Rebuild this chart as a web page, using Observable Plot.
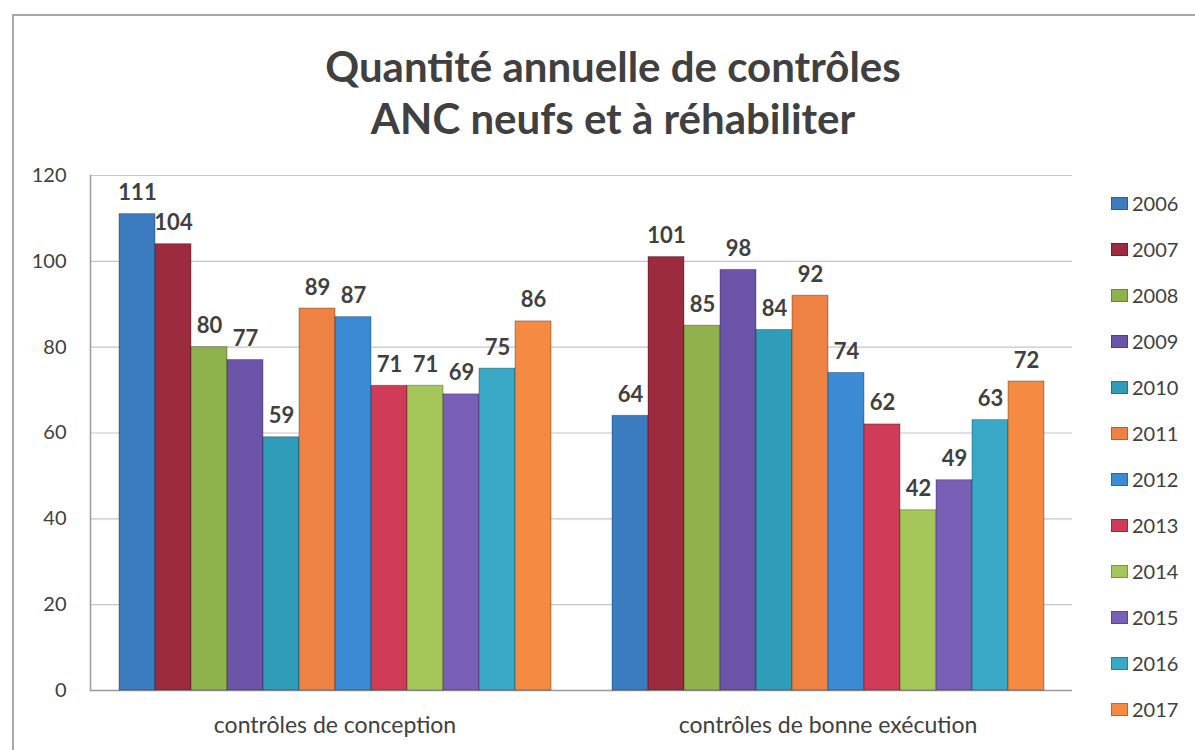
<!DOCTYPE html>
<html><head><meta charset="utf-8">
<script src="https://cdn.jsdelivr.net/npm/d3@7"></script>
<script src="https://cdn.jsdelivr.net/npm/@observablehq/plot@0.6"></script>
<style>
body{margin:0;background:#fff;font-family:Lato,"Open Sans",sans-serif;}
#wrap{position:relative;width:1195px;height:750px;overflow:hidden;background:#fff;}
#border{position:absolute;left:12px;top:14px;width:1300px;height:800px;border-left:2px solid #a8a8a8;border-top:2px solid #a8a8a8;}
#title{position:absolute;left:0;width:1226px;top:40px;text-align:center;font-weight:700;font-size:42px;line-height:52px;color:#404040;}
#grid,#chart{position:absolute;left:0;top:150px;}
#legend{position:absolute;left:1111px;top:180px;}
.item{height:46px;display:flex;align-items:center;font-size:20px;color:#404040;}
.sw{width:17px;height:13px;margin-right:4px;box-shadow:inset 0 0 0 1px rgba(0,0,0,0.25);}
</style>
</head><body>
<div id="wrap">
  <div id="border"></div>
  <div id="title">Quantité annuelle de contrôles<br>ANC neufs et à réhabiliter</div>
  <div id="grid"></div>
  <div id="chart"></div>
  <div id="legend"></div>
</div>
<script>
const groups = ["contrôles de conception", "contrôles de bonne exécution"];
const years = ["2006","2007","2008","2009","2010","2011","2012","2013","2014","2015","2016","2017"];
const conception = [111,104,80,77,59,89,87,71,71,69,75,86];
const bonneExecution = [64,101,85,98,84,92,74,62,42,49,63,72];
const colors = ["#3b7cc0","#9c2b3f","#8fb24c","#6b54a8","#2f9cb9","#ee8242","#3a8bd4","#d03b57","#a5c75a","#7a5fb8","#3aa9c7","#f58a42"];
const yTicks = [0,20,40,60,80,100,120];

const data = [];
years.forEach((yr,i)=>{
  data.push({group: groups[0], year: yr, value: conception[i]});
  data.push({group: groups[1], year: yr, value: bonneExecution[i]});
});

const common = {
  width: 1195,
  height: 600,
  marginTop: 25,
  marginBottom: 60,
  marginLeft: 90,
  marginRight: 123,
  style: {fontFamily: "Lato, 'Open Sans', sans-serif", background: "transparent"}
};

// Background: gridlines, baseline, left axis line, y tick labels
const grid = Plot.plot({
  ...common,
  y: {domain: [0,120], axis: null},
  marks: [
    Plot.ruleY(yTicks.filter(d=>d>0), {stroke: "#c9c0d3", strokeWidth: 1.2}),
    Plot.ruleY([0], {stroke: "#9a9a9a", strokeWidth: 1.5}),
    Plot.frame({anchor: "left", stroke: "#9a9a9a", strokeWidth: 1.5}),
    Plot.axisY({ticks: yTicks, tickSize: 0, tickPadding: 24, fontSize: 20, fill: "#404040", label: null})
  ]
});
document.getElementById("grid").appendChild(grid);

const chart = Plot.plot({
  ...common,
  fx: {domain: groups, paddingInner: 0.113, paddingOuter: 0.052, label: null, axis: null},
  x: {domain: years, padding: 0, axis: null},
  y: {domain: [0,120], axis: null},
  color: {domain: years, range: colors},
  marks: [
    Plot.barY(data, {fx: "group", x: "year", y: "value", fill: "year", stroke: "rgba(0,0,0,0.3)", strokeWidth: 1}),
    Plot.text(data, {fx: "group", x: "year", y: "value", text: d=>String(d.value), dy: -21, fontSize: 22, fontWeight: "bold", fill: "#404040"}),
    Plot.axisFx({anchor: "bottom", tickSize: 0, tickPadding: 26, fontSize: 23, fill: "#404040", label: null})
  ]
});
document.getElementById("chart").appendChild(chart);

const legend = document.getElementById("legend");
years.forEach((yr,i)=>{
  const it = document.createElement("div");
  it.className = "item";
  const sw = document.createElement("span");
  sw.className = "sw";
  sw.style.background = colors[i];
  it.appendChild(sw);
  it.appendChild(document.createTextNode(yr));
  legend.appendChild(it);
});
</script>
</body></html>
